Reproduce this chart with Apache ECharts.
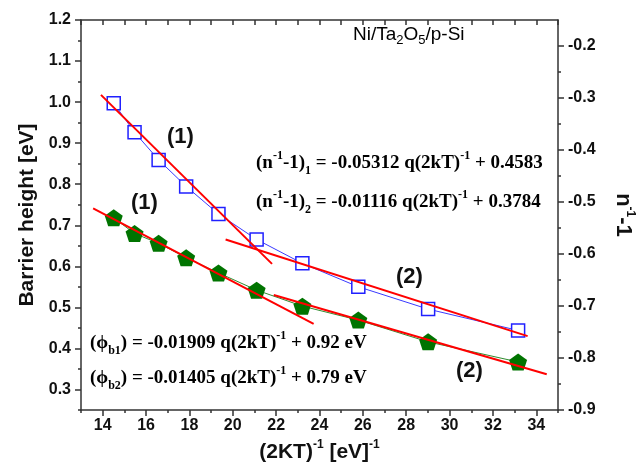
<!DOCTYPE html>
<html>
<head>
<meta charset="utf-8">
<script src="https://cdn.jsdelivr.net/npm/echarts@6/dist/echarts.min.js"></script>
<style>
  html, body { margin: 0; padding: 0; background: #fff; }
  #chart { width: 644px; height: 471px; }
</style>
</head>
<body>
<div id="chart"></div>
<script>
// (2kT)^-1 values, one per measurement temperature
var invKT = [14.51, 15.47, 16.58, 17.85, 19.34, 21.10, 23.21, 25.79, 29.01, 33.16];
// barrier height [eV] (left axis)
var barrier = [0.718, 0.680, 0.656, 0.621, 0.584, 0.542, 0.503, 0.469, 0.416, 0.367];
// n^-1 - 1 (right axis)
var nInv = [-0.310, -0.366, -0.419, -0.470, -0.523, -0.572, -0.618, -0.663, -0.706, -0.747];

// red linear fits, end points
var fitN1 = [[13.92, -0.294], [21.81, -0.619]];
var fitN2 = [[19.67, -0.572], [33.60, -0.758]];
var fitB1 = [[13.56, 0.741], [23.73, 0.460]];
var fitB2 = [[21.89, 0.530], [34.48, 0.337]];

// tick values
var xMajor = [14, 16, 18, 20, 22, 24, 26, 28, 30, 32, 34];
var xMinor = [13, 15, 17, 19, 21, 23, 25, 27, 29, 31, 33, 35];
var leftMajor = [0.3, 0.4, 0.5, 0.6, 0.7, 0.8, 0.9, 1.0, 1.1, 1.2];
var leftMinor = [0.25, 0.35, 0.45, 0.55, 0.65, 0.75, 0.85, 0.95, 1.05, 1.15];
var rightMajor = [-0.9, -0.8, -0.7, -0.6, -0.5, -0.4, -0.3, -0.2];
var rightMinor = [-0.85, -0.75, -0.65, -0.55, -0.45, -0.35, -0.25];

var pentagon = 'path://M50,0 L97.6,34.5 L79.4,90.5 L20.6,90.5 L2.4,34.5 Z';
var sans = 'Arial, "Liberation Sans", sans-serif';
var serif = '"Times New Roman", "Liberation Serif", serif';
var axisCol = '#333';

var eqRich = {
  b: { fontFamily: serif, fontWeight: 'bold', fontSize: 19, lineHeight: 27, color: '#111' },
  sup: { fontFamily: serif, fontWeight: 'bold', fontSize: 12, lineHeight: 12, verticalAlign: 'top', color: '#111' },
  sub: { fontFamily: serif, fontWeight: 'bold', fontSize: 12, lineHeight: 12, verticalAlign: 'bottom', color: '#111' }
};
var tagStyle = { fontFamily: sans, fontWeight: 'bold', fontSize: 22, fill: '#111' };

function zip(xs, ys) {
  return xs.map(function (x, i) { return [x, ys[i]]; });
}

var chart = echarts.init(document.getElementById('chart'));

chart.setOption({
  animation: false,
  backgroundColor: '#fff',
  grid: { left: 81, right: 84, top: 20, bottom: 61 },
  xAxis: [
    {
      type: 'value', min: 13, max: 35, position: 'bottom',
      name: '{a|(2KT)}{s|-1}{a| [eV]}{s|-1}',
      nameLocation: 'middle', nameGap: 28,
      nameTextStyle: {
        rich: {
          a: { fontFamily: sans, fontWeight: 'bold', fontSize: 21, lineHeight: 26, color: '#111' },
          s: { fontFamily: sans, fontWeight: 'bold', fontSize: 12, lineHeight: 12, verticalAlign: 'top', color: '#111' }
        }
      },
      axisLine: { show: true, lineStyle: { color: axisCol, width: 1.5 } },
      axisTick: { show: true, inside: false, length: 6, customValues: xMajor, lineStyle: { color: axisCol, width: 1.5 } },
      axisLabel: { customValues: xMajor, margin: 8, fontFamily: sans, fontWeight: 'bold', fontSize: 16, color: '#111' },
      splitLine: { show: false }
    },
    {
      type: 'value', min: 13, max: 35, position: 'bottom',
      axisLine: { show: false },
      axisTick: { show: true, length: 3, customValues: xMinor, lineStyle: { color: axisCol, width: 1.5 } },
      axisLabel: { show: false }, splitLine: { show: false }
    },
    {
      type: 'value', min: 13, max: 35, position: 'top',
      axisLine: { show: true, lineStyle: { color: axisCol, width: 1.5 } },
      axisTick: { show: true, inside: true, length: 5, customValues: xMajor.concat(xMinor), lineStyle: { color: axisCol, width: 1.5 } },
      axisLabel: { show: false }, splitLine: { show: false }
    }
  ],
  yAxis: [
    {
      type: 'value', min: 0.25, max: 1.2, position: 'left',
      name: 'Barrier height [eV]', nameLocation: 'middle', nameGap: 42,
      nameTextStyle: { fontFamily: sans, fontWeight: 'bold', fontSize: 21, color: '#111' },
      axisLine: { show: true, lineStyle: { color: axisCol, width: 1.5 } },
      axisTick: { show: true, length: 6, customValues: leftMajor, lineStyle: { color: axisCol, width: 1.5 } },
      axisLabel: {
        customValues: leftMajor, margin: 10, fontFamily: sans, fontWeight: 'bold', fontSize: 16, color: '#111',
        formatter: function (v) { return v.toFixed(1); }
      },
      splitLine: { show: false }
    },
    {
      type: 'value', min: -0.9, max: -0.15, position: 'right',
      name: '{a|n}{s|-1}{a|-1}', nameLocation: 'middle', nameGap: 52, nameRotate: -90,
      nameTextStyle: {
        rich: {
          a: { fontFamily: sans, fontWeight: 'bold', fontSize: 22, lineHeight: 26, color: '#111' },
          s: { fontFamily: sans, fontWeight: 'bold', fontSize: 12, lineHeight: 12, verticalAlign: 'top', color: '#111' }
        }
      },
      axisLine: { show: true, lineStyle: { color: axisCol, width: 1.5 } },
      axisTick: { show: true, length: 6, customValues: rightMajor, lineStyle: { color: axisCol, width: 1.5 } },
      axisLabel: {
        customValues: rightMajor, margin: 10, fontFamily: sans, fontWeight: 'bold', fontSize: 16, color: '#111',
        formatter: function (v) { return v.toFixed(1); }
      },
      splitLine: { show: false }
    },
    {
      type: 'value', min: 0.25, max: 1.2, position: 'left',
      axisLine: { show: false },
      axisTick: { show: true, length: 3, customValues: leftMinor, lineStyle: { color: axisCol, width: 1.5 } },
      axisLabel: { show: false }, splitLine: { show: false }
    },
    {
      type: 'value', min: -0.9, max: -0.15, position: 'right',
      axisLine: { show: false },
      axisTick: { show: true, length: 3, customValues: rightMinor, lineStyle: { color: axisCol, width: 1.5 } },
      axisLabel: { show: false }, splitLine: { show: false }
    }
  ],
  series: [
    {
      name: 'n', type: 'line', xAxisIndex: 0, yAxisIndex: 1,
      data: zip(invKT, nInv),
      symbol: 'rect', symbolSize: 13,
      itemStyle: { color: '#fff', borderColor: '#2020ff', borderWidth: 1.5 },
      lineStyle: { color: '#3a3aff', width: 1 },
      z: 2
    },
    {
      name: 'phi', type: 'line', xAxisIndex: 0, yAxisIndex: 0,
      data: zip(invKT, barrier),
      symbol: pentagon, symbolSize: [18, 17],
      itemStyle: { color: '#007400', borderColor: '#007400', borderWidth: 0 },
      lineStyle: { color: '#2e8b2e', width: 1 },
      z: 2
    },
    { type: 'line', xAxisIndex: 0, yAxisIndex: 1, data: fitN1, symbol: 'none', lineStyle: { color: '#ff0000', width: 2 }, z: 5 },
    { type: 'line', xAxisIndex: 0, yAxisIndex: 1, data: fitN2, symbol: 'none', lineStyle: { color: '#ff0000', width: 2 }, z: 5 },
    { type: 'line', xAxisIndex: 0, yAxisIndex: 0, data: fitB1, symbol: 'none', lineStyle: { color: '#ff0000', width: 2 }, z: 5 },
    { type: 'line', xAxisIndex: 0, yAxisIndex: 0, data: fitB2, symbol: 'none', lineStyle: { color: '#ff0000', width: 2 }, z: 5 }
  ],
  graphic: [
    {
      type: 'text', left: 353, top: 25,
      style: {
        text: '{a|Ni/Ta}{s|2}{a|O}{s|5}{a|/p-Si}',
        rich: {
          a: { fontFamily: sans, fontSize: 19, lineHeight: 24, color: '#111' },
          s: { fontFamily: sans, fontSize: 13, lineHeight: 13, verticalAlign: 'bottom', color: '#111' }
        }
      }
    },
    {
      type: 'text', left: 256, top: 150,
      style: { text: '{b|(n}{sup|-1}{b|-1)}{sub|1}{b| = -0.05312 q(2kT)}{sup|-1}{b| + 0.4583}', rich: eqRich }
    },
    {
      type: 'text', left: 256, top: 189,
      style: { text: '{b|(n}{sup|-1}{b|-1)}{sub|2}{b| = -0.01116 q(2kT)}{sup|-1}{b| + 0.3784}', rich: eqRich }
    },
    {
      type: 'text', left: 90, top: 330,
      style: { text: '{b|(\u03d5}{sub|b1}{b|) = -0.01909 q(2kT)}{sup|-1}{b| + 0.92 eV}', rich: eqRich }
    },
    {
      type: 'text', left: 90, top: 365,
      style: { text: '{b|(\u03d5}{sub|b2}{b|) = -0.01405 q(2kT)}{sup|-1}{b| + 0.79 eV}', rich: eqRich }
    },
    { type: 'text', left: 167, top: 126, style: Object.assign({ text: '(1)' }, tagStyle) },
    { type: 'text', left: 131, top: 192, style: Object.assign({ text: '(1)' }, tagStyle) },
    { type: 'text', left: 396, top: 266, style: Object.assign({ text: '(2)' }, tagStyle) },
    { type: 'text', left: 456, top: 360, style: Object.assign({ text: '(2)' }, tagStyle) }
  ]
});
</script>
</body>
</html>
